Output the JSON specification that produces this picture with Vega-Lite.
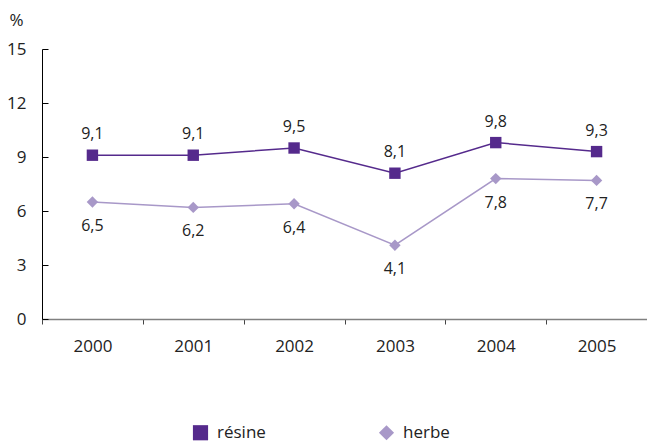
{
  "$schema": "https://vega.github.io/schema/vega-lite/v6.json",
  "width": 605,
  "height": 270,
  "autosize": "none",
  "padding": {"left": 42, "top": 49, "right": 0, "bottom": 124},
  "config": {
    "font": "Open Sans",
    "view": {"stroke": null},
    "locale": {"number": {"decimal": ",", "thousands": " ", "grouping": [3], "currency": ["", " €"]}}
  },
  "data": {
    "values": [
      {"annee": "2000", "serie": "résine", "valeur": 9.1},
      {"annee": "2001", "serie": "résine", "valeur": 9.1},
      {"annee": "2002", "serie": "résine", "valeur": 9.5},
      {"annee": "2003", "serie": "résine", "valeur": 8.1},
      {"annee": "2004", "serie": "résine", "valeur": 9.8},
      {"annee": "2005", "serie": "résine", "valeur": 9.3},
      {"annee": "2000", "serie": "herbe", "valeur": 6.5},
      {"annee": "2001", "serie": "herbe", "valeur": 6.2},
      {"annee": "2002", "serie": "herbe", "valeur": 6.4},
      {"annee": "2003", "serie": "herbe", "valeur": 4.1},
      {"annee": "2004", "serie": "herbe", "valeur": 7.8},
      {"annee": "2005", "serie": "herbe", "valeur": 7.7}
    ]
  },
  "encoding": {
    "x": {
      "field": "annee", "type": "ordinal",
      "scale": {"type": "band", "paddingInner": 0, "paddingOuter": 0},
      "axis": {
        "title": null, "labelAngle": 0, "labelFontSize": 17, "labelColor": "#222222",
        "labelPadding": 14, "tickBand": "extent", "tickSize": 5,
        "domainColor": "#808080", "domainWidth": 1.5, "tickColor": "#444444", "grid": false
      }
    },
    "y": {
      "field": "valeur", "type": "quantitative",
      "scale": {"domain": [0, 15], "nice": false},
      "axis": {
        "values": [0, 3, 6, 9, 12, 15], "title": "%", "titleAngle": 0, "titleX": -33, "titleY": -29,
        "titleAlign": "left", "titleBaseline": "middle", "titleFontSize": 17, "titleFontWeight": "normal", "titleColor": "#222222",
        "labelFontSize": 17, "labelColor": "#222222", "labelPadding": 22, "tickSize": -6,
        "domainColor": "#000000", "tickColor": "#000000", "grid": false
      }
    }
  },
  "layer": [
    {
      "mark": {"type": "line", "strokeWidth": 1.5},
      "encoding": {
        "color": {"field": "serie", "type": "nominal", "scale": {"domain": ["résine", "herbe"], "range": ["#552a8c", "#a898c8"]},
          "legend": {"title": null, "orient": "none", "legendX": 150, "legendY": 375, "direction": "horizontal", "columns": 2, "columnPadding": 112, "labelFontSize": 17, "labelColor": "#222222", "symbolSize": 230, "symbolOpacity": 1, "symbolStrokeWidth": 0, "labelOffset": 8}}
      }
    },
    {
      "mark": {"type": "point", "filled": true, "opacity": 1, "size": 130},
      "encoding": {
        "color": {"field": "serie", "type": "nominal", "scale": {"domain": ["résine", "herbe"], "range": ["#552a8c", "#a898c8"]},
          "legend": {"title": null, "orient": "none", "legendX": 150, "legendY": 375, "direction": "horizontal", "columns": 2, "columnPadding": 112, "labelFontSize": 17, "labelColor": "#222222", "symbolSize": 230, "symbolOpacity": 1, "symbolStrokeWidth": 0, "labelOffset": 8}},
        "shape": {"field": "serie", "type": "nominal", "scale": {"domain": ["résine", "herbe"], "range": ["square", "diamond"]},
          "legend": {"title": null, "orient": "none", "legendX": 150, "legendY": 375, "direction": "horizontal", "columns": 2, "columnPadding": 112, "labelFontSize": 17, "labelColor": "#222222", "symbolSize": 230, "symbolOpacity": 1, "symbolStrokeWidth": 0, "labelOffset": 8}}
      }
    },
    {
      "transform": [{"filter": "datum.serie === 'résine'"}],
      "mark": {"type": "text", "dy": -21, "fontSize": 16, "color": "#222222"},
      "encoding": {"text": {"field": "valeur", "type": "quantitative", "format": ".1f"}}
    },
    {
      "transform": [{"filter": "datum.serie === 'herbe'"}],
      "mark": {"type": "text", "dy": 24, "fontSize": 16, "color": "#222222"},
      "encoding": {"text": {"field": "valeur", "type": "quantitative", "format": ".1f"}}
    }
  ]
}
